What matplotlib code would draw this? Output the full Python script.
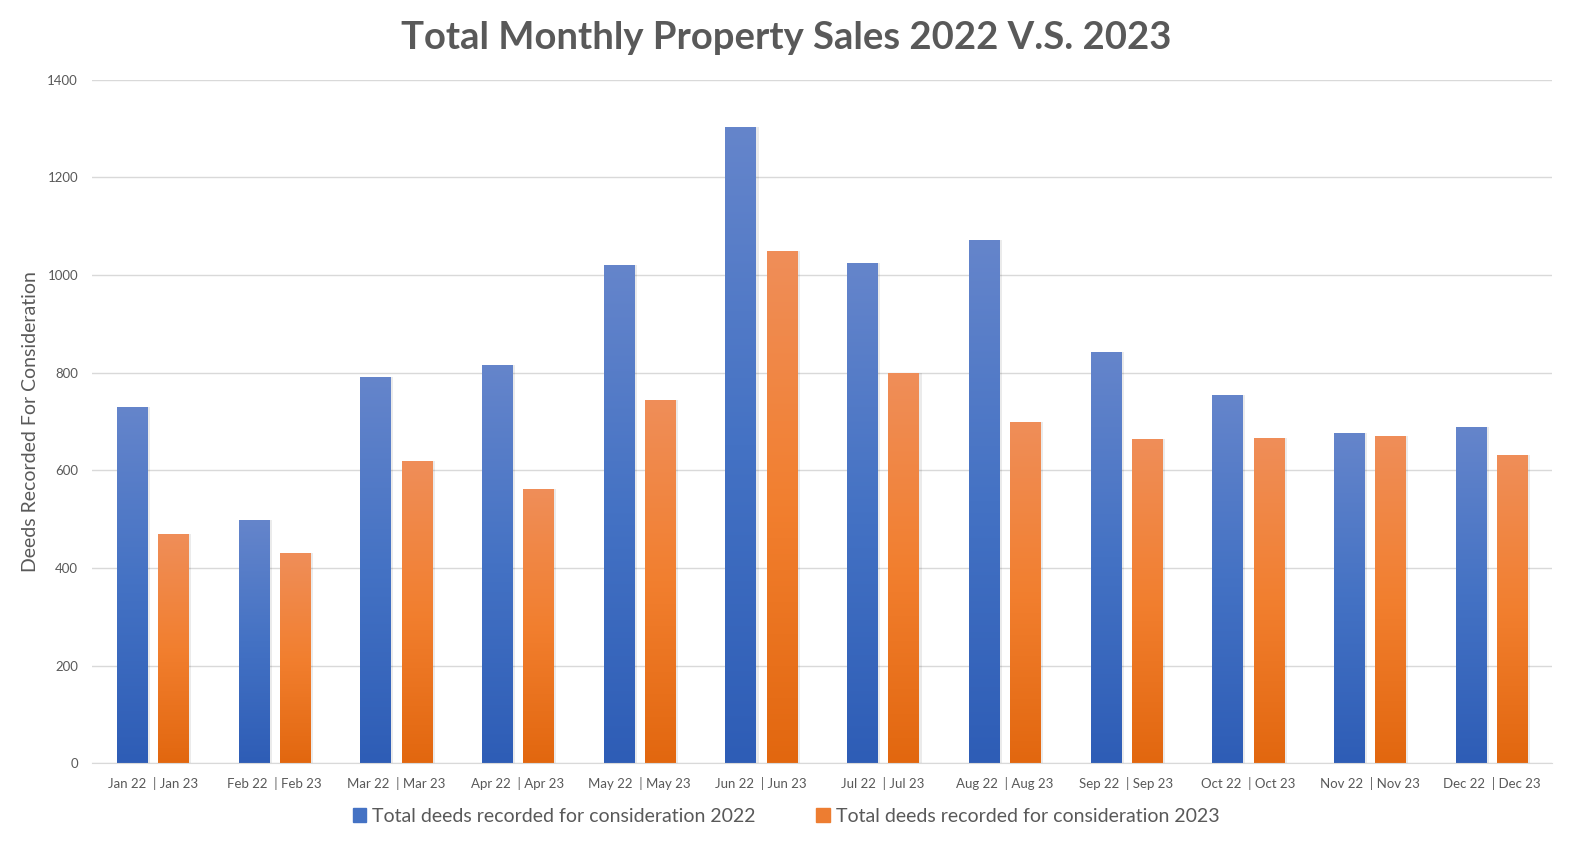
import numpy as np
import matplotlib.pyplot as plt
from matplotlib.colors import LinearSegmentedColormap
from matplotlib.patches import Patch

plt.rcParams['font.family'] = ['Lato', 'DejaVu Sans']

# data
months = ['Jan', 'Feb', 'Mar', 'Apr', 'May', 'Jun', 'Jul', 'Aug', 'Sep', 'Oct', 'Nov', 'Dec']
deeds_2022 = [730, 498, 791, 816, 1021, 1302, 1025, 1072, 842, 754, 676, 689]
deeds_2023 = [470, 430, 619, 562, 744, 1049, 799, 699, 664, 667, 670, 631]
labels = [m + ' 22  | ' + m + ' 23' for m in months]

grey = '#595959'
blue_cmap = LinearSegmentedColormap.from_list('b', ['#2E5DB6', '#4472C4', '#6585CB'])
orange_cmap = LinearSegmentedColormap.from_list('o', ['#E2670F', '#F27F2F', '#EF8E59'])

fig = plt.figure(figsize=(15.72, 8.42), dpi=100)
ax = fig.add_axes([0.0585, 0.0935, 0.929, 0.812])

x = np.arange(len(months))
w = 0.25
off = 0.17
b1 = ax.bar(x - off, deeds_2022, w, color='#4472C4', zorder=2)
b2 = ax.bar(x + off, deeds_2023, w, color='#ED7D31', zorder=2)

# vertical gradient fill, clipped to each bar
grad = np.linspace(0, 1, 256).reshape(-1, 1)
for bars, cmap in ((b1, blue_cmap), (b2, orange_cmap)):
    for b in bars:
        bx, by = b.get_x(), b.get_y()
        bw, bh = b.get_width(), b.get_height()
        # soft shadow
        ax.bar(bx + bw / 2 + 0.012, bh, bw + 0.02, bottom=by, color='#000000', alpha=0.08, zorder=1.5)
        im = ax.imshow(grad, cmap=cmap, aspect='auto', origin='lower',
                       extent=[bx, bx + bw, by, by + bh], zorder=2.5)
        im.set_clip_path(b)

ax.set_xlim(-0.5, len(months) - 0.5)
ax.set_ylim(0, 1400)
ax.set_yticks(range(0, 1401, 200))
ax.set_xticks(x)
ax.set_xticklabels(labels)
ax.tick_params(axis='both', length=0, colors=grey, labelsize=9.5)
ax.tick_params(axis='x', pad=10)
ax.tick_params(axis='y', pad=10)
ax.grid(axis='y', color='#D9D9D9', linewidth=1, zorder=0)
for s in ['top', 'right', 'left']:
    ax.spines[s].set_visible(False)
ax.spines['bottom'].set_color('#D9D9D9')
ax.set_axisbelow(True)

ax.set_ylabel('Deeds Recorded For Consideration', fontsize=14, color=grey, labelpad=6)
fig.suptitle('Total Monthly Property Sales 2022 V.S. 2023', fontsize=27.5, fontweight='bold',
             color=grey, y=0.975)

handles = [Patch(color='#4472C4'), Patch(color='#ED7D31')]
fig.legend(handles, ['Total deeds recorded for consideration 2022',
                     'Total deeds recorded for consideration 2023'],
           loc='lower center', bbox_to_anchor=(0.5, 0.0), ncol=2, frameon=False,
           fontsize=14, labelcolor=grey, handlelength=0.7, handleheight=0.7,
           handletextpad=0.3, columnspacing=3.1)

fig.savefig('out.png', dpi=100)
